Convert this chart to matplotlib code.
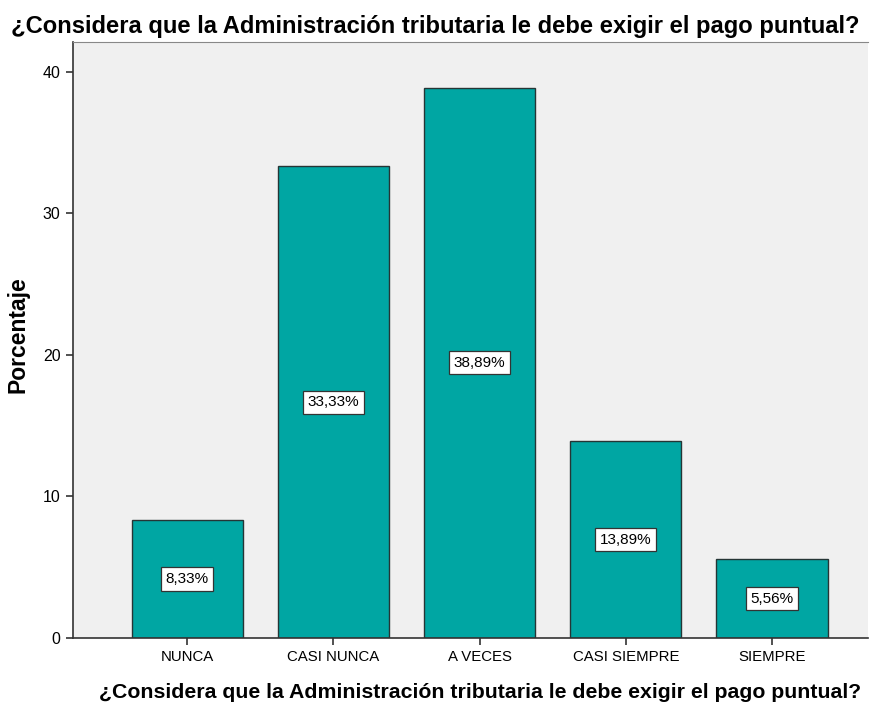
import matplotlib.pyplot as plt

categories = ["NUNCA", "CASI NUNCA", "A VECES", "CASI SIEMPRE", "SIEMPRE"]
percentages = [8.33, 33.33, 38.89, 13.89, 5.56]
y_ticks = [0, 10, 20, 30, 40]

question = "¿Considera que la Administración tributaria le debe exigir el pago puntual?"

plt.rcParams["font.family"] = ["Liberation Sans", "DejaVu Sans"]

fig = plt.figure(figsize=(8.83, 7.03), dpi=100)
ax = fig.add_axes([0.0827, 0.0925, 0.9003, 0.8475])
ax.set_facecolor("#f0f0f0")

positions = list(range(len(categories)))
bars = ax.bar(positions, percentages, width=0.76, color="#00a6a3",
              edgecolor="#253535", linewidth=1.0, zorder=2)

for bar, value in zip(bars, percentages):
    label = f"{value:.2f}%".replace(".", ",")
    ax.text(bar.get_x() + bar.get_width() / 2, value / 2, label,
            ha="center", va="center", fontsize=11, color="black", zorder=3,
            bbox=dict(boxstyle="square,pad=0.3", facecolor="white",
                      edgecolor="#333333", linewidth=0.9))

ax.set_xlim(-0.78, 4.656)
ax.set_ylim(0, 42.1)
ax.set_xticks(positions)
ax.set_xticklabels(categories, fontsize=10.8)
ax.set_yticks(y_ticks)
ax.set_yticklabels([str(t) for t in y_ticks], fontsize=11.5)
ax.tick_params(axis="both", length=5, width=1.2, color="#333333", pad=4)

for side in ["left", "bottom"]:
    ax.spines[side].set_color("#333333")
    ax.spines[side].set_linewidth(1.2)
ax.spines["top"].set_color("#888888")
ax.spines["right"].set_visible(False)

fig.text(18 / 883, 1 - 335 / 703, "Porcentaje", rotation=90, ha="center", va="center",
         fontsize=16.5, fontweight="bold")
fig.text(480 / 883, 1 - 692 / 703, question, ha="center", va="center",
         fontsize=15.3, fontweight="bold")
fig.text(435 / 883, 1 - 26 / 703, question, ha="center", va="center",
         fontsize=17.1, fontweight="bold")

fig.savefig("out.png", dpi=100)
